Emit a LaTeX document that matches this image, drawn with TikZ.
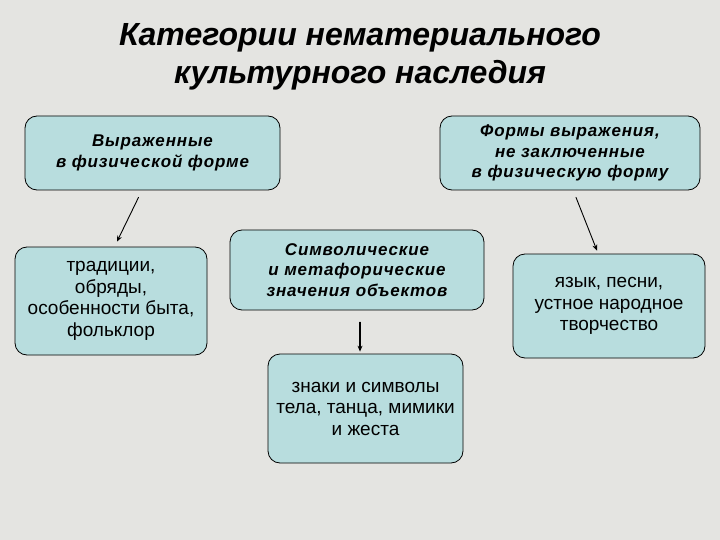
\documentclass[tikz,border=0pt]{standalone}
\usepackage{fontspec}
\setmainfont{Liberation Sans}
\usetikzlibrary{arrows.meta}
\definecolor{bgGray}{RGB}{228,228,225}
\definecolor{boxTeal}{RGB}{184,221,222}
\begin{document}
\begin{tikzpicture}[x=1pt, y=-1pt, line cap=round, line join=round,
    box/.style={draw=black, line width=0.8pt, fill=boxTeal, rounded corners=12pt,
      align=center, inner sep=2pt,
      font=\fontsize{17}{20.5}\selectfont\bfseries\itshape\addfontfeatures{LetterSpace=5}},
    leaf/.style={box, font=\fontsize{19}{21.5}\selectfont},
    link/.style={line width=0.9pt, -{Stealth[length=6pt, width=5pt]}}]
  \fill[bgGray] (0,0) rectangle (720,540);
  \useasboundingbox (0,0) rectangle (720,540);
  % заголовок
  \node[align=center, font=\fontsize{32}{38}\selectfont\bfseries\itshape] (title) at (360,57)
    {Категории нематериального\\культурного наследия};
  % верхний ряд
  \node[box, minimum width=255, minimum height=74] (phys) at (152.5,153)
    {Выраженные\\в физической форме};
  \node[box, minimum width=260, minimum height=74] (nonphys) at (570,153)
    {Формы выражения,\\не заключенные\\в физическую форму};
  % средний ряд
  \node[leaf, minimum width=192, minimum height=108] (trad) at (111,301)
    {традиции,\\обряды,\\особенности быта,\\фольклор};
  \node[box, minimum width=254, minimum height=80] (symb) at (357,270)
    {Символические\\и метафорические\\значения объектов};
  \node[leaf, minimum width=192, minimum height=104] (lang) at (609,306)
    {язык, песни,\\устное народное\\творчество};
  % нижний ряд
  \node[leaf, minimum width=195, minimum height=109] (signs) at (365.5,408.5)
    {знаки и символы\\тела, танца, мимики\\и жеста};
  % стрелки
  \draw[link] ([xshift=-14pt, yshift=-7pt]phys.south) -- ([xshift=6pt, yshift=5pt]trad.north);
  \draw[link] ([xshift=6pt, yshift=-7pt]nonphys.south) -- ([xshift=-12pt, yshift=3pt]lang.north);
  \draw[link, line width=1.4pt] ([xshift=3pt, yshift=-12pt]symb.south) -- ([xshift=-5.5pt, yshift=2pt]signs.north);
\end{tikzpicture}
\end{document}
